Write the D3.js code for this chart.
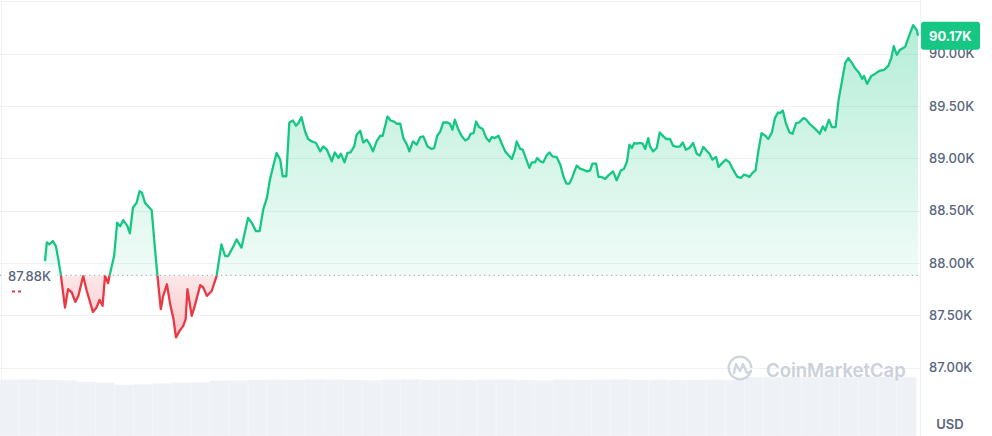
<!DOCTYPE html>
<html>
<head>
<meta charset="utf-8">
<script src="https://cdn.jsdelivr.net/npm/d3@7"></script>
<style>
  body { margin: 0; background: #fff; }
  svg { display: block; font-family: Inter, "Noto Sans", sans-serif; }
</style>
</head>
<body>
<div id="chart"></div>
<script>
/* BTC 24h price chart */

// minutes since the start of the 24h window
var minutes = [0,3,7,13,18,22,26,33,38,44,50,55,63,69,79,85,90,95,99,104,
  107,114,119,124,129,136,140,145,151,156,160,165,170,176,181,185,191,195,201,207,
  212,216,222,228,232,235,242,247,256,261,267,275,283,291,297,302,311,316,324,335,
  341,348,354,360,366,371,377,382,388,392,398,403,409,414,418,423,429,434,440,447,
  454,459,465,473,478,484,488,494,499,504,510,514,520,525,531,536,541,547,553,557,
  565,570,576,580,586,591,597,601,607,613,619,624,631,638,642,647,652,657,664,668,
  672,676,682,687,693,698,702,707,711,716,722,728,733,737,742,748,753,759,764,770,
  775,778,784,788,794,799,803,808,812,817,822,827,832,837,844,850,855,860,865,870,
  877,883,888,894,899,903,909,913,918,924,929,937,943,950,955,960,964,968,972,976,
  982,986,990,995,998,1003,1009,1014,1020,1025,1031,1036,1042,1047,1052,1057,1063,1069,1075,1080,
  1086,1091,1096,1101,1107,1111,1116,1123,1129,1135,1142,1148,1153,1158,1162,1167,1172,1177,1182,1188,
  1193,1199,1204,1209,1212,1217,1222,1228,1233,1239,1244,1251,1255,1261,1266,1273,1278,1283,1287,1293,
  1298,1304,1309,1314,1320,1325,1330,1336,1343,1348,1351,1356,1363,1369,1376,1384,1391,1396,1400,1405,
  1410,1419,1427,1432,1438,1440];

// price in USD
var prices = [88017,88195,88176,88208,88160,88033,87890,87573,87748,87719,
  87627,87684,87874,87731,87531,87573,87646,87589,87874,87805,
  87890,88065,88383,88350,88408,88350,88281,88526,88573,88684,
  88669,88573,88541,88503,88160,87907,87557,87684,87795,87589,
  87462,87288,87350,87398,87462,87748,87493,87589,87786,87764,
  87684,87731,87874,88176,88065,88065,88160,88224,88145,88430,
  88383,88303,88303,88510,88621,88795,88938,89050,88986,88827,
  88827,89341,89360,89310,89335,89392,89255,89183,89160,89145,
  89065,89112,89081,88970,89055,89002,89043,88960,89050,89055,
  89112,89224,89262,89150,89176,89129,89065,89160,89214,89214,
  89398,89360,89350,89329,89329,89192,89129,89065,89160,89129,
  89202,89208,89112,89088,89097,89214,89255,89341,89341,89329,
  89271,89367,89271,89214,89170,89183,89233,89240,89350,89297,
  89278,89192,89160,89202,89192,89214,89145,89065,89033,88992,
  89074,89160,89088,89081,88986,88907,88960,88960,89002,88970,
  88960,89024,89055,89017,89011,88938,88827,88757,88757,88821,
  88929,88897,88890,88874,88881,88948,88948,88821,88821,88802,
  88833,88874,88789,88884,88897,88970,89129,89097,89145,89138,
  89145,89138,89088,89192,89112,89065,89097,89246,89208,89183,
  89183,89119,89107,89112,89150,89081,89097,89145,89043,89024,
  89107,89074,89043,88986,89011,88916,88948,88986,88960,88890,
  88821,88811,88843,88833,88821,88859,88884,89081,89240,89214,
  89183,89246,89383,89436,89430,89455,89335,89246,89233,89335,
  89341,89383,89373,89329,89303,89265,89233,89303,89265,89367,
  89297,89297,89557,89716,89910,89957,89919,89862,89814,89757,
  89786,89709,89786,89805,89833,89843,89881,89957,90071,89986,
  90033,90065,90195,90271,90224,90170];

// opening price (reference line) and current price tag
var openPrice = 87880;
var openLabel = "87.88K";
var lastLabel = "90.17K";

// right axis ticks
var priceTicks = [87000, 87500, 88000, 88500, 89000, 89500, 90000];
var gridTicks = [87000, 87500, 88000, 88500, 89000, 89500, 90000, 90500];

// volume bars (billions USD)
var volumes = [1.87,1.88,1.86,1.85,1.80,1.77,1.70,1.71,1.74,1.77,1.78,1.84,
  1.85,1.86,1.87,1.86,1.88,1.87,1.86,1.85,1.87,1.88,1.86,1.87,
  1.86,1.87,1.88,1.86,1.85,1.87,1.86,1.87,1.88,1.86,1.87,1.86,
  1.86,1.87,1.86,1.95,1.96,1.97,1.96,1.97,1.96,1.97,1.97,1.96];

var width = 992, height = 436;
var plotRight = 920;

var green = "#16c784", red = "#ea3943";

var data = minutes.map(function(m, i) { return {t: m, p: prices[i]}; });

var svg = d3.select("#chart").append("svg")
    .attr("width", width)
    .attr("height", height);

// scales
var x = d3.scaleLinear().domain([0, 1440]).range([45, 918]);
var y = d3.scaleLinear().domain([87000, 90000]).range([367.5, 53.5]);
var xv = d3.scaleBand().domain(d3.range(volumes.length)).range([0, 916]);
var yv = d3.scaleLinear().domain([0, 2]).range([436, 376]);

var baseY = y(openPrice);

// gradients
var defs = svg.append("defs");
var gUp = defs.append("linearGradient").attr("id", "gUp")
    .attr("gradientUnits", "userSpaceOnUse")
    .attr("x1", 0).attr("x2", 0).attr("y1", y(90300)).attr("y2", baseY);
gUp.append("stop").attr("offset", 0).attr("stop-color", green).attr("stop-opacity", 0.32);
gUp.append("stop").attr("offset", 1).attr("stop-color", green).attr("stop-opacity", 0.06);

var gDown = defs.append("linearGradient").attr("id", "gDown")
    .attr("gradientUnits", "userSpaceOnUse")
    .attr("x1", 0).attr("x2", 0).attr("y1", baseY).attr("y2", y(87250));
gDown.append("stop").attr("offset", 0).attr("stop-color", red).attr("stop-opacity", 0.12);
gDown.append("stop").attr("offset", 1).attr("stop-color", red).attr("stop-opacity", 0.3);

defs.append("clipPath").attr("id", "clipUp")
  .append("rect").attr("x", 0).attr("y", 0).attr("width", plotRight).attr("height", baseY);
defs.append("clipPath").attr("id", "clipDown")
  .append("rect").attr("x", 0).attr("y", baseY).attr("width", plotRight).attr("height", height - baseY);

// volume
svg.append("g").selectAll("rect")
    .data(volumes)
  .enter().append("rect")
    .attr("x", function(d, i) { return xv(i); })
    .attr("y", function(d) { return yv(d); })
    .attr("width", xv.bandwidth())
    .attr("height", function(d) { return yv(0) - yv(d); })
    .attr("fill", "#eef1f5")
    .attr("stroke", "#f4f6f9")
    .attr("stroke-width", 0.8);

// grid lines
svg.append("g").selectAll("line")
    .data(gridTicks)
  .enter().append("line")
    .attr("x1", 0).attr("x2", plotRight)
    .attr("y1", function(d) { return Math.round(y(d)) + 0.5; })
    .attr("y2", function(d) { return Math.round(y(d)) + 0.5; })
    .attr("stroke", "#eff2f5");

// frame
svg.append("line").attr("x1", 1.5).attr("x2", 1.5).attr("y1", y(90500)).attr("y2", height)
    .attr("stroke", "#eff2f5");
svg.append("line").attr("x1", plotRight + 0.5).attr("x2", plotRight + 0.5).attr("y1", 0).attr("y2", height)
    .attr("stroke", "#eff2f5");

// areas
var area = d3.area()
    .x(function(d) { return x(d.t); })
    .y0(baseY)
    .y1(function(d) { return y(d.p); });

svg.append("path").datum(data)
    .attr("d", area).attr("fill", "url(#gUp)").attr("clip-path", "url(#clipUp)");
svg.append("path").datum(data)
    .attr("d", area).attr("fill", "url(#gDown)").attr("clip-path", "url(#clipDown)");

// opening price dotted line
svg.append("line")
    .attr("x1", 0).attr("x2", 918)
    .attr("y1", baseY).attr("y2", baseY)
    .attr("stroke", "#a7b1c2").attr("stroke-width", 1.2)
    .attr("stroke-dasharray", "1.2,3.5");

// price line
var valueline = d3.line()
    .x(function(d) { return x(d.t); })
    .y(function(d) { return y(d.p); });

svg.append("path").datum(data)
    .attr("d", valueline).attr("fill", "none")
    .attr("stroke", green).attr("stroke-width", 2.3).attr("stroke-linejoin", "round")
    .attr("clip-path", "url(#clipUp)");
svg.append("path").datum(data)
    .attr("d", valueline).attr("fill", "none")
    .attr("stroke", red).attr("stroke-width", 2.3).attr("stroke-linejoin", "round")
    .attr("clip-path", "url(#clipDown)");

// opening price label
svg.append("rect")
    .attr("x", 5).attr("y", baseY - 9).attr("width", 52).attr("height", 18)
    .attr("fill", "#fff");
svg.append("text")
    .attr("x", 8).attr("y", baseY + 1)
    .attr("dy", "0.35em")
    .attr("font-size", 13).attr("font-weight", 500)
    .attr("fill", "#58667e")
    .text(openLabel);
svg.append("line")
    .attr("x1", 12).attr("x2", 22).attr("y1", baseY + 16).attr("y2", baseY + 16)
    .attr("stroke", red).attr("stroke-width", 2).attr("stroke-dasharray", "3,3");

// right axis
var axis = svg.append("g")
    .attr("transform", "translate(" + (plotRight + 6) + ",0)")
    .call(d3.axisRight(y)
      .tickValues(priceTicks)
      .tickSize(0)
      .tickPadding(3)
      .tickFormat(function(d) { return (d / 1000).toFixed(2) + "K"; }));
axis.select(".domain").remove();
axis.selectAll("text")
    .attr("font-family", "Inter, 'Noto Sans', sans-serif")
    .attr("font-size", 13).attr("font-weight", 500)
    .attr("fill", "#58667e");

svg.append("text")
    .attr("x", 950).attr("y", 424).attr("dy", "0.35em")
    .attr("text-anchor", "middle")
    .attr("font-size", 13).attr("font-weight", 600)
    .attr("fill", "#58667e")
    .text("USD");

// current price tag
var lastY = y(prices[prices.length - 1]);
svg.append("rect")
    .attr("x", plotRight + 1).attr("y", lastY - 14).attr("width", 59).attr("height", 28)
    .attr("rx", 3).attr("fill", green);
svg.append("text")
    .attr("x", 929).attr("y", lastY + 1).attr("dy", "0.35em")
    .attr("font-size", 13).attr("font-weight", 700)
    .attr("fill", "#fff")
    .text(lastLabel);

// watermark
var wm = svg.append("g").attr("transform", "translate(740,368)").attr("opacity", 0.9);
wm.append("path")
    .attr("d", d3.arc()({innerRadius: 10, outerRadius: 12.5, startAngle: 0.55 * Math.PI, endAngle: 2.5 * Math.PI}))
    .attr("fill", "#cbd1db");
wm.append("path")
    .attr("d", "M-6,5 L-4,-4 L0,3 L3,-4 L6,3 Q7,6 10,4")
    .attr("fill", "none").attr("stroke", "#cbd1db").attr("stroke-width", 2.4)
    .attr("stroke-linejoin", "round").attr("stroke-linecap", "round");
svg.append("text")
    .attr("x", 766).attr("y", 377)
    .attr("font-size", 18.5).attr("font-weight", 600)
    .attr("fill", "#cbd1db")
    .text("CoinMarketCap");
</script>
</body>
</html>
